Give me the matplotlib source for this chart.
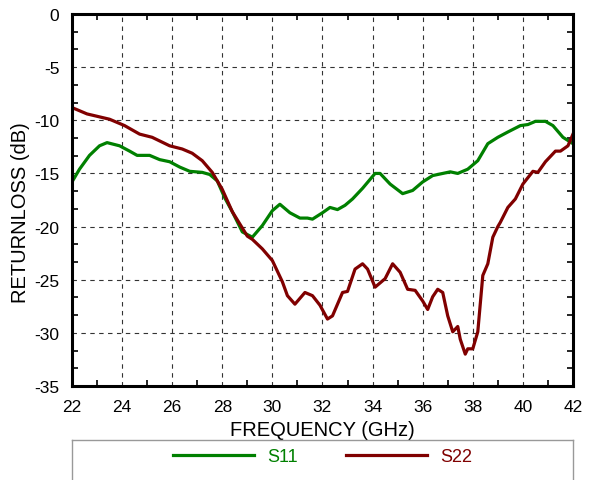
import matplotlib
matplotlib.use("Agg")
import matplotlib.pyplot as plt
from matplotlib.ticker import MultipleLocator

plt.rcParams['font.family'] = ['Liberation Sans', 'DejaVu Sans']
plt.rcParams['axes.unicode_minus'] = False

# S11
s11_freq = [22.0, 22.3, 22.7, 23.1, 23.4, 23.9, 24.3, 24.6, 25.1, 25.5, 25.9, 26.3,
            26.7, 27.2, 27.5, 27.8, 28.1, 28.4, 28.8, 29.2, 29.6, 30.0, 30.3, 30.7,
            31.1, 31.4, 31.6, 32.0, 32.3, 32.6, 32.9, 33.2, 33.6, 34.1, 34.3, 34.7,
            35.2, 35.6, 36.0, 36.4, 36.8, 37.1, 37.4, 37.8, 38.2, 38.6, 39.0, 39.4,
            39.9, 40.2, 40.5, 40.9, 41.2, 41.6, 42.0]
s11_db = [-15.8, -14.6, -13.3, -12.4, -12.1, -12.4, -12.9, -13.3, -13.3, -13.7, -13.9, -14.4,
          -14.8, -14.9, -15.1, -15.7, -17.3, -18.6, -20.5, -21.0, -19.9, -18.5, -17.9, -18.7,
          -19.2, -19.2, -19.3, -18.7, -18.2, -18.4, -18.0, -17.4, -16.4, -15.0, -15.0, -16.0,
          -16.9, -16.6, -15.8, -15.2, -15.0, -14.85, -15.0, -14.6, -13.8, -12.2, -11.6, -11.1,
          -10.5, -10.4, -10.1, -10.1, -10.5, -11.6, -12.2]

# S22
s22_freq = [22.0, 22.6, 23.5, 24.1, 24.7, 25.2, 25.9, 26.4, 26.8, 27.2, 27.6, 28.0,
            28.4, 29.0, 29.2, 29.6, 30.0, 30.4, 30.6, 30.9, 31.3, 31.6, 31.9, 32.2,
            32.4, 32.8, 33.0, 33.3, 33.6, 33.8, 34.1, 34.5, 34.8, 35.1, 35.4, 35.7,
            36.0, 36.2, 36.4, 36.6, 36.8, 37.0, 37.2, 37.4, 37.5, 37.7, 37.8, 38.0,
            38.2, 38.4, 38.6, 38.8, 39.0, 39.1, 39.4, 39.7, 40.0, 40.4, 40.6, 40.9,
            41.3, 41.5, 41.8, 42.0]
s22_db = [-8.8, -9.4, -9.9, -10.5, -11.3, -11.6, -12.4, -12.7, -13.1, -13.8, -14.9, -16.5,
          -18.6, -20.9, -21.2, -22.1, -23.2, -25.2, -26.5, -27.3, -26.2, -26.5, -27.4, -28.7,
          -28.4, -26.2, -26.1, -24.0, -23.5, -24.0, -25.7, -24.9, -23.5, -24.3, -25.9, -26.0,
          -27.0, -27.8, -26.6, -25.9, -26.2, -28.4, -29.9, -29.4, -30.6, -32.0, -31.5, -31.5,
          -29.9, -24.6, -23.5, -21.0, -20.0, -19.6, -18.2, -17.4, -16.0, -14.8, -14.9, -13.9,
          -12.9, -12.9, -12.4, -11.3]

x_ticks = [22, 24, 26, 28, 30, 32, 34, 36, 38, 40, 42]
y_ticks = [0, -5, -10, -15, -20, -25, -30, -35]

fig = plt.figure(figsize=(5.89, 4.81), dpi=100)
ax = fig.add_axes([0.1222, 0.1954, 0.8506, 0.7734])

l1, = ax.plot(s11_freq, s11_db, color='#008000', lw=2.3, label='S11')
l2, = ax.plot(s22_freq, s22_db, color='#800000', lw=2.3, label='S22')

ax.set_xlim(22, 42)
ax.set_ylim(-35, 0)
ax.set_xticks(x_ticks)
ax.set_yticks(y_ticks)
ax.xaxis.set_minor_locator(MultipleLocator(1))
ax.yaxis.set_minor_locator(MultipleLocator(5 / 3))
ax.tick_params(which='both', direction='in', top=True, right=True, labelsize=12.5, width=1.2)
ax.tick_params(which='major', length=0, pad=9)
ax.tick_params(which='minor', length=4)
ax.grid(True, which='major', color='#333333', linestyle=(0, (4, 4)), linewidth=0.8)
for sp in ax.spines.values():
    sp.set_linewidth(2.2)

ax.set_xlabel('FREQUENCY (GHz)', fontsize=14.5, labelpad=5)
ax.set_ylabel('RETURNLOSS (dB)', fontsize=14.5)
ax.yaxis.set_label_coords(-0.083, 0.47)

# legend box under the plot
lax = fig.add_axes([0.1222, -0.05, 0.8506, 40 / 481 + 0.05])
lax.set_xticks([])
lax.set_yticks([])
for sp in lax.spines.values():
    sp.set_color('#999999')
    sp.set_linewidth(1.0)
lax.legend([l1, l2], ['S11', 'S22'], ncol=2, frameon=False, loc='center',
           bbox_to_anchor=(0.5, 0.735), fontsize=13, handlelength=4.5,
           handletextpad=0.72, columnspacing=2.65, labelcolor='linecolor')

fig.savefig('out.png', dpi=100)
